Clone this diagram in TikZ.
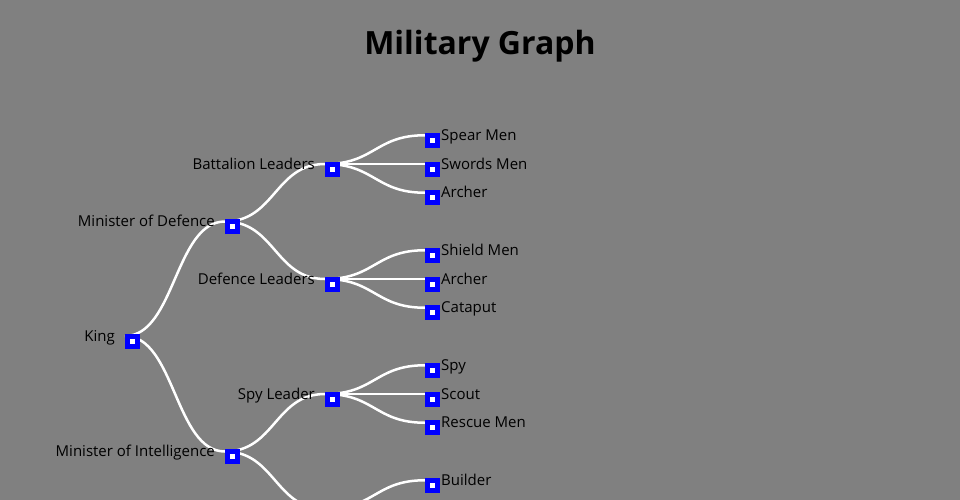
\documentclass[tikz,border=0pt]{standalone}
\usepackage{fontspec}
\setmainfont{Open Sans}

\definecolor{bggray}{HTML}{808080}
\tikzstyle{unit}=[rectangle,draw=blue,fill=white,line width=5pt,minimum size=10pt,inner sep=0pt,outer sep=2.5pt,anchor=north west,yshift=2.5pt]
\tikzstyle{link}=[draw=white,line width=2.5pt,to path={.. controls +(50,0) and +(-50,0) .. (\tikztotarget)}]
\tikzstyle{innername}=[font=\fontsize{15}{18}\selectfont,inner sep=0pt,anchor=base east,xshift=-10pt,yshift=-5pt]
\tikzstyle{leafname}=[font=\fontsize{15}{18}\selectfont,inner sep=0pt,anchor=base west,xshift=16pt,yshift=-5pt]

\begin{document}
\begin{tikzpicture}[x=1pt, y=-1pt]
		\fill[bggray] (0,0) rectangle (960,500);
		\useasboundingbox (0,0) rectangle (960,500);
		\clip (0,0) rectangle (960,500);

		\node [font=\fontsize{32}{38}\selectfont\bfseries, anchor=base] (title) at (480,54.5) {Military Graph};

		% tree points
		\coordinate (king)      at (125,336);
		\coordinate (defence)   at (225,221.5);
		\coordinate (intel)     at (225,451.5);
		\coordinate (battalion) at (325,164);
		\coordinate (defleader) at (325,279);
		\coordinate (spyleader) at (325,394);
		\coordinate (works)     at (325,509);
		\coordinate (spear)     at (425,135.25);
		\coordinate (swords)    at (425,164);
		\coordinate (archer1)   at (425,192.75);
		\coordinate (shield)    at (425,250.25);
		\coordinate (archer2)   at (425,279);
		\coordinate (catapult)  at (425,307.75);
		\coordinate (spy)       at (425,365.25);
		\coordinate (scout)     at (425,394);
		\coordinate (rescue)    at (425,422.75);
		\coordinate (builder)   at (425,480.25);

		\path (king)      edge[link] (defence);
		\path (king)      edge[link] (intel);
		\path (defence)   edge[link] (battalion);
		\path (defence)   edge[link] (defleader);
		\path (intel)     edge[link] (spyleader);
		\path (intel)     edge[link] (works);
		\path (battalion) edge[link] (spear);
		\path (battalion) edge[link] (swords);
		\path (battalion) edge[link] (archer1);
		\path (defleader) edge[link] (shield);
		\path (defleader) edge[link] (archer2);
		\path (defleader) edge[link] (catapult);
		\path (spyleader) edge[link] (spy);
		\path (spyleader) edge[link] (scout);
		\path (spyleader) edge[link] (rescue);
		\path (works)     edge[link] (builder);

		\node [unit] (kingbox)      at (king)      {};
		\node [unit] (defencebox)   at (defence)   {};
		\node [unit] (intelbox)     at (intel)     {};
		\node [unit] (battalionbox) at (battalion) {};
		\node [unit] (defleaderbox) at (defleader) {};
		\node [unit] (spyleaderbox) at (spyleader) {};
		\node [unit] (spearbox)     at (spear)     {};
		\node [unit] (swordsbox)    at (swords)    {};
		\node [unit] (archer1box)   at (archer1)   {};
		\node [unit] (shieldbox)    at (shield)    {};
		\node [unit] (archer2box)   at (archer2)   {};
		\node [unit] (catapultbox)  at (catapult)  {};
		\node [unit] (spybox)       at (spy)       {};
		\node [unit] (scoutbox)     at (scout)     {};
		\node [unit] (rescuebox)    at (rescue)    {};
		\node [unit] (builderbox)   at (builder)   {};

		\node [innername] (kingtext)      at (king)      {King};
		\node [innername] (defencetext)   at (defence)   {Minister of Defence};
		\node [innername] (inteltext)     at (intel)     {Minister of Intelligence};
		\node [innername] (battaliontext) at (battalion) {Battalion Leaders};
		\node [innername] (defleadertext) at (defleader) {Defence Leaders};
		\node [innername] (spyleadertext) at (spyleader) {Spy Leader};
		\node [leafname]  (speartext)     at (spear)     {Spear Men};
		\node [leafname]  (swordstext)    at (swords)    {Swords Men};
		\node [leafname]  (archer1text)   at (archer1)   {Archer};
		\node [leafname]  (shieldtext)    at (shield)    {Shield Men};
		\node [leafname]  (archer2text)   at (archer2)   {Archer};
		\node [leafname]  (catapulttext)  at (catapult)  {Cataput};
		\node [leafname]  (spytext)       at (spy)       {Spy};
		\node [leafname]  (scouttext)     at (scout)     {Scout};
		\node [leafname]  (rescuetext)    at (rescue)    {Rescue Men};
		\node [leafname]  (buildertext)   at (builder)   {Builder};
	\end{tikzpicture}
\end{document}
